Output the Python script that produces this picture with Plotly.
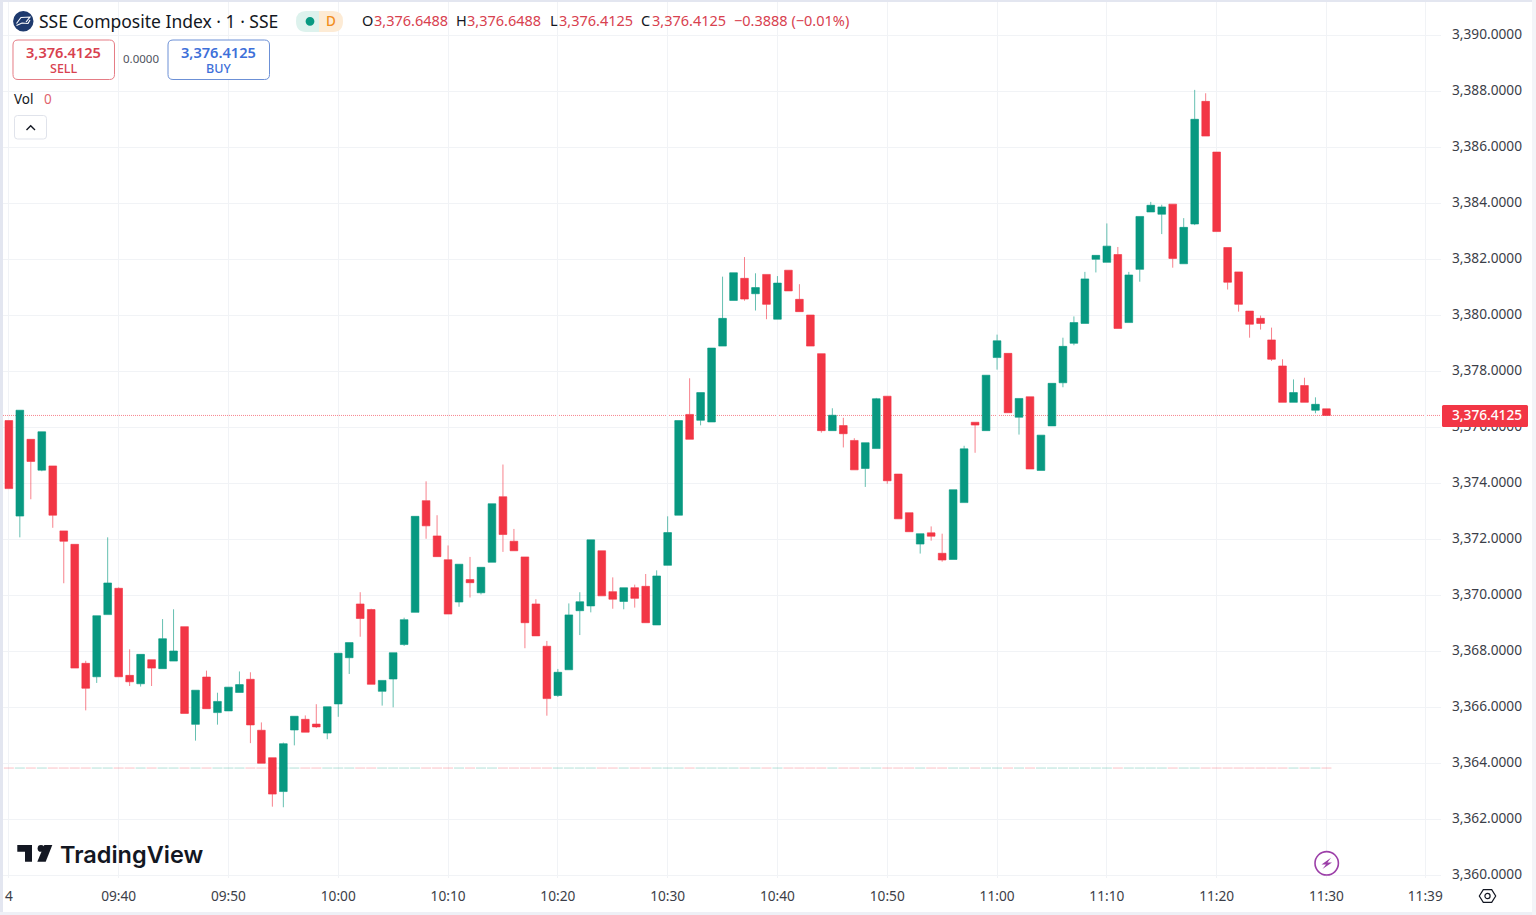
import pandas as pd
import plotly.graph_objects as go

W, H = 1536, 915
DAY = "2025-07-24"

open_ = [3376.23,3372.82,3375.56,3374.46,3374.61,3372.29,3371.81,3367.56,3367.08,3369.30,
         3370.24,3367.13,3366.83,3367.69,3367.37,3367.64,3368.87,3365.38,3367.07,3365.80,
         3365.86,3366.52,3366.99,3365.17,3364.19,3362.98,3365.18,3365.56,3365.39,3365.07,
         3366.11,3367.76,3369.68,3369.48,3366.56,3367.00,3368.23,3369.38,3373.37,3372.11,
         3371.26,3369.75,3370.55,3370.08,3371.17,3373.51,3371.92,3371.36,3369.68,3368.17,
         3366.41,3367.33,3369.44,3369.61,3371.58,3370.12,3369.77,3370.26,3370.31,3368.93,
         3371.06,3372.85,3376.45,3376.24,3376.18,3378.89,3380.52,3381.31,3380.76,3381.45,
         3379.85,3381.60,3380.56,3380.00,3378.62,3375.87,3376.05,3375.52,3374.52,3375.23,
         3377.10,3374.32,3372.94,3371.82,3372.22,3371.49,3371.27,3373.30,3376.17,3375.87,
         3378.48,3378.63,3376.35,3377.08,3374.45,3376.04,3377.58,3378.99,3379.70,3381.99,
         3381.88,3382.16,3379.73,3381.63,3383.68,3383.60,3383.96,3381.83,3383.25,3387.63,
         3385.82,3382.41,3381.54,3380.14,3379.88,3379.11,3378.18,3376.88,3377.48,3376.60,
         3376.6488]
high = [3376.23,3376.60,3375.56,3375.83,3374.61,3372.29,3371.81,3367.65,3369.26,3372.06,
        3370.27,3368.06,3367.88,3367.69,3369.14,3369.49,3368.87,3366.60,3367.30,3366.51,
        3366.71,3367.27,3367.24,3365.45,3364.19,3364.73,3365.67,3365.70,3366.10,3366.01,
        3367.92,3368.30,3370.10,3369.51,3366.95,3367.94,3369.19,3372.81,3374.06,3372.85,
        3371.77,3371.10,3371.36,3370.99,3373.26,3374.66,3372.36,3371.36,3369.85,3368.36,
        3367.36,3369.70,3370.10,3371.97,3371.58,3370.63,3370.26,3370.37,3370.75,3370.88,
        3372.81,3376.23,3377.74,3377.23,3378.82,3381.37,3381.51,3382.07,3381.49,3381.45,
        3381.39,3381.60,3381.10,3380.00,3378.62,3376.67,3376.33,3375.60,3375.44,3377.04,
        3377.10,3374.32,3372.94,3372.19,3372.45,3372.19,3373.76,3375.33,3376.17,3377.85,
        3379.30,3378.63,3377.02,3377.08,3375.71,3377.56,3379.19,3379.95,3381.54,3382.13,
        3383.27,3382.43,3381.54,3383.52,3384.04,3383.94,3383.96,3383.46,3388.04,3387.92,
        3385.82,3382.41,3381.54,3380.14,3379.98,3379.55,3378.42,3377.70,3377.76,3377.06,
        3376.6488]
low = [3373.80,3372.06,3373.42,3374.42,3372.40,3370.42,3367.39,3365.88,3366.86,3369.30,
       3367.08,3366.75,3366.73,3366.75,3367.37,3367.64,3365.77,3364.80,3365.94,3365.37,
       3365.86,3366.52,3364.71,3363.99,3362.44,3362.42,3364.63,3365.10,3365.25,3364.85,
       3365.65,3367.18,3368.51,3366.81,3366.05,3365.99,3368.18,3369.38,3372.01,3371.37,
       3369.32,3369.58,3369.91,3370.02,3371.17,3371.54,3371.58,3368.10,3368.54,3365.69,
       3366.36,3367.33,3368.57,3369.38,3369.97,3369.51,3369.49,3369.55,3369.01,3368.93,
       3371.06,3372.85,3375.56,3376.06,3376.18,3378.89,3380.52,3380.51,3380.16,3379.85,
       3379.85,3380.86,3380.12,3378.89,3375.80,3375.87,3375.27,3374.47,3373.86,3375.23,
       3373.97,3372.72,3372.26,3371.48,3371.94,3371.19,3371.27,3373.30,3375.08,3375.87,
       3378.05,3376.51,3375.73,3374.50,3374.45,3376.04,3377.42,3378.92,3379.70,3381.52,
       3381.88,3379.52,3379.73,3381.19,3383.68,3382.89,3381.69,3381.83,3383.21,3386.39,
       3382.98,3380.91,3380.12,3379.19,3379.48,3378.36,3376.88,3376.88,3376.88,3376.49,
       3376.4125]
close = [3373.80,3376.60,3374.77,3375.83,3372.85,3371.92,3367.39,3366.67,3369.26,3370.43,
         3367.08,3366.90,3367.88,3367.39,3368.44,3368.00,3365.77,3366.60,3365.94,3366.20,
         3366.71,3366.80,3365.36,3363.99,3362.89,3364.69,3365.67,3365.10,3365.29,3366.01,
         3367.92,3368.30,3369.16,3366.81,3366.95,3367.94,3369.12,3372.81,3372.47,3371.37,
         3369.32,3371.10,3370.44,3370.99,3373.26,3372.16,3371.58,3369.01,3368.54,3366.30,
         3367.24,3369.29,3369.76,3371.97,3369.97,3369.85,3370.26,3369.88,3369.01,3370.68,
         3372.23,3376.23,3375.56,3377.23,3378.82,3379.88,3381.51,3380.57,3380.98,3380.38,
         3381.14,3380.86,3380.12,3378.89,3375.87,3376.42,3375.76,3374.47,3375.44,3377.01,
         3374.08,3372.72,3372.26,3372.19,3372.10,3371.25,3373.76,3375.22,3376.07,3377.85,
         3379.08,3376.51,3377.02,3374.50,3375.71,3377.56,3378.88,3379.73,3381.29,3382.13,
         3382.46,3379.52,3381.43,3383.52,3383.92,3383.86,3382.02,3383.13,3386.99,3386.39,
         3382.98,3381.17,3380.38,3379.67,3379.70,3378.42,3376.88,3377.23,3376.88,3376.81,
         3376.4125]
volume_level = 3363.80
last_price = 3376.4125

price_ticks = [3360,3362,3364,3366,3368,3370,3372,3374,3376,3378,3380,3382,3384,3386,3388,3390]
time_labels = ["4","09:40","09:50","10:00","10:10","10:20","10:30","10:40","10:50",
               "11:00","11:10","11:20","11:30","11:39"]
time_ticks = ["09:30","09:40","09:50","10:00","10:10","10:20","10:30","10:40","10:50",
              "11:00","11:10","11:20","11:30","11:39"]

GREEN, RED = "#089981", "#F23645"
GREEN_EDGE, RED_EDGE = "rgba(8,153,129,0.62)", "rgba(242,54,69,0.62)"
FONT = "Noto Sans"
INK = "#131722"
times = pd.date_range(f"{DAY} 09:30", periods=len(close), freq="min")


def X(p): return p / W
def Y(p): return 1 - p / H


def path(points, close_path=True):
    s = "M " + " L ".join(f"{X(a):.5f} {Y(b):.5f}" for a, b in points)
    return s + (" Z" if close_path else "")


def rrect(x0, y0, x1, y1, r):
    a, b, c, d = X(x0), Y(y0), X(x1), Y(y1)
    rx, ry = r / W, r / H
    return (f"M {a+rx:.5f} {b:.5f} L {c-rx:.5f} {b:.5f} Q {c:.5f} {b:.5f} {c:.5f} {b-ry:.5f} "
            f"L {c:.5f} {d+ry:.5f} Q {c:.5f} {d:.5f} {c-rx:.5f} {d:.5f} L {a+rx:.5f} {d:.5f} "
            f"Q {a:.5f} {d:.5f} {a:.5f} {d+ry:.5f} L {a:.5f} {b-ry:.5f} Q {a:.5f} {b:.5f} {a+rx:.5f} {b:.5f} Z")


def half_pill(x0, x1, y0, y1, r, left=True):
    a, c, b, d = X(x0), X(x1), Y(y0), Y(y1)
    rx, ry = r / W, r / H
    if left:
        return (f"M {c:.5f} {b:.5f} L {a+rx:.5f} {b:.5f} Q {a:.5f} {b:.5f} {a:.5f} {b-ry:.5f} "
                f"Q {a:.5f} {d:.5f} {a+rx:.5f} {d:.5f} L {c:.5f} {d:.5f} Z")
    return (f"M {a:.5f} {b:.5f} L {c-rx:.5f} {b:.5f} Q {c:.5f} {b:.5f} {c:.5f} {b-ry:.5f} "
            f"Q {c:.5f} {d:.5f} {c-rx:.5f} {d:.5f} L {a:.5f} {d:.5f} Z")


def circle(cx, cy, r, fill="rgba(0,0,0,0)", line=None, lw=0):
    return dict(type="circle", xref="paper", yref="paper", x0=X(cx - r), x1=X(cx + r),
                y0=Y(cy + r), y1=Y(cy - r), fillcolor=fill, line=dict(color=line or fill, width=lw))


def poly(d, fill="rgba(0,0,0,0)", line=None, lw=0, layer="above"):
    return dict(type="path", xref="paper", yref="paper", path=d, fillcolor=fill, layer=layer,
                line=dict(color=line or fill, width=lw))


vol_colors = ["rgba(8,153,129,0.28)" if c >= o else "rgba(242,54,69,0.28)" for o, c in zip(open_, close)]

fig = go.Figure()
fig.add_trace(go.Bar(x=times, y=[0.04] * len(close), base=[volume_level] * len(close), width=54500,
                     marker=dict(color=vol_colors, line=dict(width=0)), hoverinfo="skip", name="Vol"))
fig.add_trace(go.Candlestick(x=times, open=open_, high=high, low=low, close=close,
                             increasing=dict(line=dict(color=GREEN_EDGE, width=1), fillcolor=GREEN),
                             decreasing=dict(line=dict(color=RED_EDGE, width=1), fillcolor=RED),
                             whiskerwidth=0, name="SSE"))

shapes = [
    # page frame
    dict(type="rect", xref="paper", yref="paper", x0=0, x1=X(3), y0=0, y1=1, fillcolor="#E3E6F0", line_width=0),
    dict(type="rect", xref="paper", yref="paper", x0=0, x1=1, y0=Y(2), y1=1, fillcolor="#E3E6F0", line_width=0),
    dict(type="rect", xref="paper", yref="paper", x0=0, x1=1, y0=0, y1=Y(912), fillcolor="#EEF0F6", line_width=0),
    dict(type="rect", xref="paper", yref="paper", x0=X(1532), x1=1, y0=0, y1=1, fillcolor="#F3F4F8", line_width=0),
    # last price line and tag
    dict(type="line", xref="paper", yref="y", x0=X(3), x1=X(1441), y0=last_price, y1=last_price,
         line=dict(color="rgba(242,54,69,0.6)", width=1, dash="1px,1px"), layer="below"),
    poly(rrect(1442, 405, 1528, 427, 1.5), fill=RED),
    # symbol logo
    circle(23.3, 21.3, 10.2, fill="#1E3A6E"),
    poly(path([(16.5, 23.5), (21, 17.5), (30, 17), (26, 22)], False), line="#FFFFFF", lw=1.1),
    poly(path([(16.5, 25.5), (22, 23), (28, 23.5), (30, 20)], False), line="#FFFFFF", lw=1.1),
    # market status pill
    poly(half_pill(296, 319, 11, 32, 10, True), fill="#DDF2ED"),
    poly(half_pill(319, 343, 11, 32, 10, False), fill="#FDEBD5"),
    circle(310, 21.3, 4.4, fill="#089981"),
    # sell / buy
    poly(rrect(13, 40, 114.5, 79.5, 5), fill="#FFFFFF", line="#E57C85", lw=1),
    poly(rrect(168, 40, 269.5, 79.5, 5), fill="#FFFFFF", line="#6C90D6", lw=1),
    # collapse button
    poly(rrect(14.5, 115.5, 46.5, 139, 3), fill="#FFFFFF", line="#E0E3EB", lw=1),
    poly(path([(26.5, 130), (30.7, 125.8), (35, 130)], False), line="#131722", lw=1.4),
    # tradingview logo
    poly(path([(17.3, 845), (32, 845), (32, 861.7), (25, 861.7), (25, 851.7), (17.3, 851.7)]), fill=INK),
    circle(41, 848.4, 3.4, fill=INK),
    poly(path([(52.3, 845), (44.3, 845), (37.3, 861.7), (45.7, 861.7)]), fill=INK),
    # lightning badge
    circle(1326.7, 863.3, 11.7, fill="#FFFFFF", line="#9C3FA8", lw=1.6),
    poly(path([(1331, 857.8), (1321.5, 864.5), (1326, 864.5), (1322.5, 869), (1332, 862.5), (1327.5, 862.5)]), fill="#9C3FA8"),
    # settings hexagon
    poly(path([(1479.3, 896), (1483.3, 889.7), (1491.7, 889.7), (1495.7, 896), (1491.7, 902.3), (1483.3, 902.3)]),
         line="#131722", lw=1.2),
    circle(1487.5, 896, 2.6, line="#131722", lw=1.2),
]


def label(px, py, text, size=13, color=INK, anchor="left", family=FONT, weight=400):
    if anchor == "left":
        px -= 2
    return dict(xref="paper", yref="paper", x=X(px), y=Y(py), text=text, showarrow=False, xanchor=anchor,
                yanchor="middle", font=dict(family=family, size=size, color=color, weight=weight))


RT = "#D8414F"
BT = "#3D6FD9"
S = 14.5
annotations = [
    label(39, 21, "SSE Composite Index · 1 · SSE", 17.5),
    label(330.5, 21, "D", 13.5, "#F28E1C", "center", weight=500),
    label(362, 20, "O", S), label(373.5, 20, "3,376.6488", S, RT),
    label(456, 20, "H", S), label(467, 20, "3,376.6488", S, RT),
    label(550, 20, "L", S), label(559, 20, "3,376.4125", S, RT),
    label(641, 20, "C", S), label(652, 20, "3,376.4125", S, RT),
    label(734, 20, "−0.3888 (−0.01%)", S, RT),
    label(63.5, 52, "3,376.4125", 14.6, RT, "center", weight=600),
    label(63.5, 69, "SELL", 12.5, RT, "center", weight=500),
    label(141, 59, "0.0000", 11.5, "#50535E", "center"),
    label(218.5, 52, "3,376.4125", 14.6, BT, "center", weight=600),
    label(218.5, 69, "BUY", 12.5, BT, "center", weight=500),
    label(14, 99, "Vol", 13.5),
    label(47.5, 99, "0", 13.5, "#E0636E", "center"),
    label(59.5, 854, "TradingView", 23.5, INK, "left", "Inter", 600),
    dict(xref="paper", yref="y", x=X(1487), y=last_price, yshift=1, text=f"{last_price:,.4f}", showarrow=False,
         font=dict(family=FONT, size=13.7, color="#FFFFFF", weight=500),
         xanchor="center", yanchor="middle"),
]

fig.update_layout(
    width=W, height=H, margin=dict(l=0, r=0, t=0, b=0, autoexpand=False),
    paper_bgcolor="#FFFFFF", plot_bgcolor="#FFFFFF", showlegend=False, boxgap=0.3, boxgroupgap=0,
    shapes=shapes, annotations=annotations, hovermode=False,
    xaxis=dict(type="date", domain=[X(3), X(1441)], range=[f"{DAY} 09:29:28", f"{DAY} 11:40:26"],
               rangeslider=dict(visible=False), tickmode="array",
               tickvals=[f"{DAY} {t}" for t in time_ticks], ticktext=time_labels,
               showgrid=True, gridcolor="#F1F3F6", gridwidth=1, zeroline=False, showline=False,
               ticks="", ticklabelstandoff=8,
               tickfont=dict(family=FONT, size=13.7, color="#3B3E48")),
    yaxis=dict(domain=[Y(878), Y(2)], range=[3359.893, 3391.179], side="right", tickmode="array",
               tickvals=price_ticks, tickformat=",.4f", anchor="x",
               showgrid=True, gridcolor="#F1F3F6", gridwidth=1, zeroline=False, showline=False,
               ticks="", ticklabelstandoff=10, ticklabelshift=-1,
               tickfont=dict(family=FONT, size=13.7, color="#3B3E48")),
)

fig.write_html("out.html", config=dict(displayModeBar=False, responsive=False),
               post_script="document.body.style.margin='0';document.body.style.overflow='hidden';")
